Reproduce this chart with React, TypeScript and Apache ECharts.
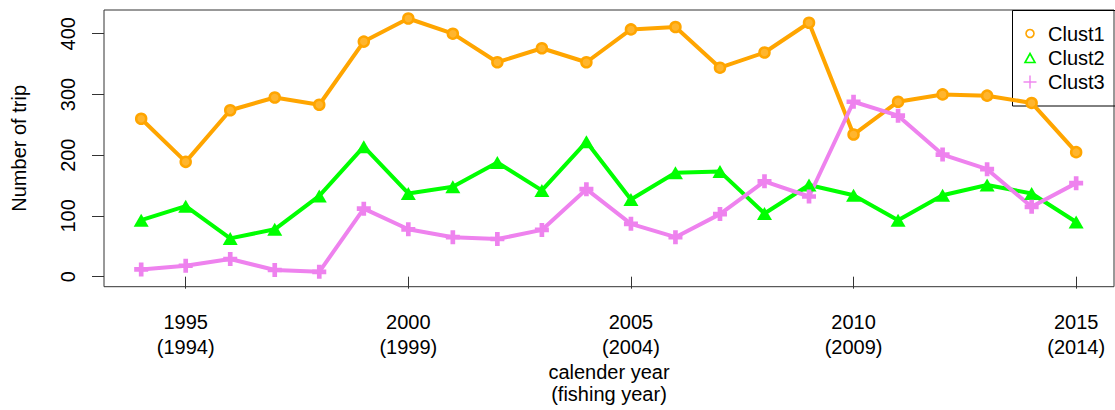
import React, { useEffect, useRef } from "react";
import * as echarts from "echarts";

// Trips per cluster, by calendar year
const years = [
  1994, 1995, 1996, 1997, 1998, 1999, 2000, 2001, 2002, 2003, 2004,
  2005, 2006, 2007, 2008, 2009, 2010, 2011, 2012, 2013, 2014, 2015,
];
const clust1 = [260, 189, 274, 295, 283, 387, 425, 400, 353, 376, 353, 407, 411, 344, 369, 418, 234, 288, 300, 298, 286, 205];
const clust2 = [93, 116, 63, 78, 133, 214, 137, 148, 188, 142, 222, 127, 171, 173, 104, 151, 134, 93, 134, 151, 137, 90];
const clust3 = [12, 18, 29, 11, 8, 112, 78, 65, 62, 77, 144, 87, 65, 103, 157, 132, 288, 265, 201, 177, 115, 154];

const xTicks = [1995, 2000, 2005, 2010, 2015];
const yTicks = [0, 100, 200, 300, 400];

const ORANGE = "#FFA500";
const GREEN = "#00FF00";
const VIOLET = "#EE82EE";
const FONT = "'Liberation Sans', Arial, Helvetica, sans-serif";
const FS = 20;
const PLUS = "path://M4,0H8V4H12V8H8V12H4V8H0V4H4Z";

const pairs = (vals: number[]) => years.map((y, i) => [y, vals[i]]);

export default function App() {
  const ref = useRef<HTMLDivElement>(null);

  useEffect(() => {
    const chart = echarts.init(ref.current!, null, { renderer: "svg" });
    const lineBase = { width: 4, cap: "round", join: "round" };
    chart.setOption({
      animation: false,
      backgroundColor: "#fff",
      textStyle: { fontFamily: FONT },
      grid: {
        left: 104,
        top: 10,
        width: 1010,
        height: 276.7,
        show: true,
        borderColor: "#333",
        borderWidth: 1,
        containLabel: false,
        outerBoundsMode: "none",
      },
      xAxis: {
        type: "value",
        min: 1993.165,
        max: 2015.85,
        name: "calender year\n(fishing year)",
        nameLocation: "middle",
        nameGap: 74,
        nameMoveOverlap: false,
        nameTextStyle: { fontSize: FS, lineHeight: 22, color: "#000", fontFamily: FONT },
        axisLine: { show: false },
        splitLine: { show: false },
        axisTick: {
          show: true,
          customValues: xTicks,
          length: 12,
          lineStyle: { color: "#333", width: 1 },
        },
        axisLabel: {
          customValues: xTicks,
          formatter: (v: number) => `${v}\n(${v - 1})`,
          fontSize: FS,
          lineHeight: 25,
          margin: 23,
          color: "#000",
          fontFamily: FONT,
        },
      },
      yAxis: {
        type: "value",
        min: -16.5,
        max: 439,
        name: "Number of trip",
        nameLocation: "middle",
        nameGap: 75,
        nameMoveOverlap: false,
        nameTextStyle: { fontSize: FS, color: "#000", fontFamily: FONT },
        axisLine: { show: false },
        splitLine: { show: false },
        axisTick: {
          show: true,
          customValues: yTicks,
          length: 12,
          lineStyle: { color: "#333", width: 1 },
        },
        axisLabel: {
          customValues: yTicks,
          rotate: 90,
          fontSize: FS,
          margin: 26,
          color: "#000",
          fontFamily: FONT,
        },
      },
      series: [
        {
          type: "line",
          name: "Clust1",
          data: pairs(clust1),
          symbol: "circle",
          symbolSize: 10,
          lineStyle: { ...lineBase, color: ORANGE },
          itemStyle: { color: "#FFB52E", borderColor: ORANGE, borderWidth: 2.5 },
        },
        {
          type: "line",
          name: "Clust2",
          data: pairs(clust2),
          symbol: "triangle",
          symbolSize: [15, 13],
          lineStyle: { ...lineBase, color: GREEN },
          itemStyle: { color: GREEN },
        },
        {
          type: "line",
          name: "Clust3",
          data: pairs(clust3),
          symbol: PLUS,
          symbolSize: 14,
          lineStyle: { ...lineBase, color: VIOLET },
          itemStyle: { color: VIOLET },
        },
      ],
      graphic: [
        {
          type: "group",
          z: 100,
          children: [
            {
              type: "rect",
              shape: { x: 1012.5, y: 10.5, width: 110, height: 95.5 },
              style: { fill: "none", stroke: "#000", lineWidth: 1 },
            },
            {
              type: "circle",
              shape: { cx: 1030, cy: 33.5, r: 4 },
              style: { fill: "none", stroke: ORANGE, lineWidth: 1.6 },
            },
            {
              type: "polygon",
              shape: { points: [[1025, 62.5], [1035, 62.5], [1030, 53.5]] },
              style: { fill: "none", stroke: GREEN, lineWidth: 1.6 },
            },
            {
              type: "line",
              shape: { x1: 1023.5, y1: 82, x2: 1036.5, y2: 82 },
              style: { stroke: VIOLET, lineWidth: 1.4 },
            },
            {
              type: "line",
              shape: { x1: 1030, y1: 75.5, x2: 1030, y2: 88.5 },
              style: { stroke: VIOLET, lineWidth: 1.4 },
            },
            ...["Clust1", "Clust2", "Clust3"].map((t, i) => ({
              type: "text",
              x: 1048,
              y: [33.5, 57.5, 82][i],
              style: {
                text: t,
                fontSize: FS,
                fontFamily: FONT,
                fill: "#000",
                verticalAlign: "middle",
                align: "left",
              },
            })),
          ],
        },
      ],
    });
    return () => chart.dispose();
  }, []);

  return (
    <div
      ref={ref}
      style={{ position: "fixed", left: 0, top: 0, width: 1115, height: 410, background: "#fff" }}
    />
  );
}
